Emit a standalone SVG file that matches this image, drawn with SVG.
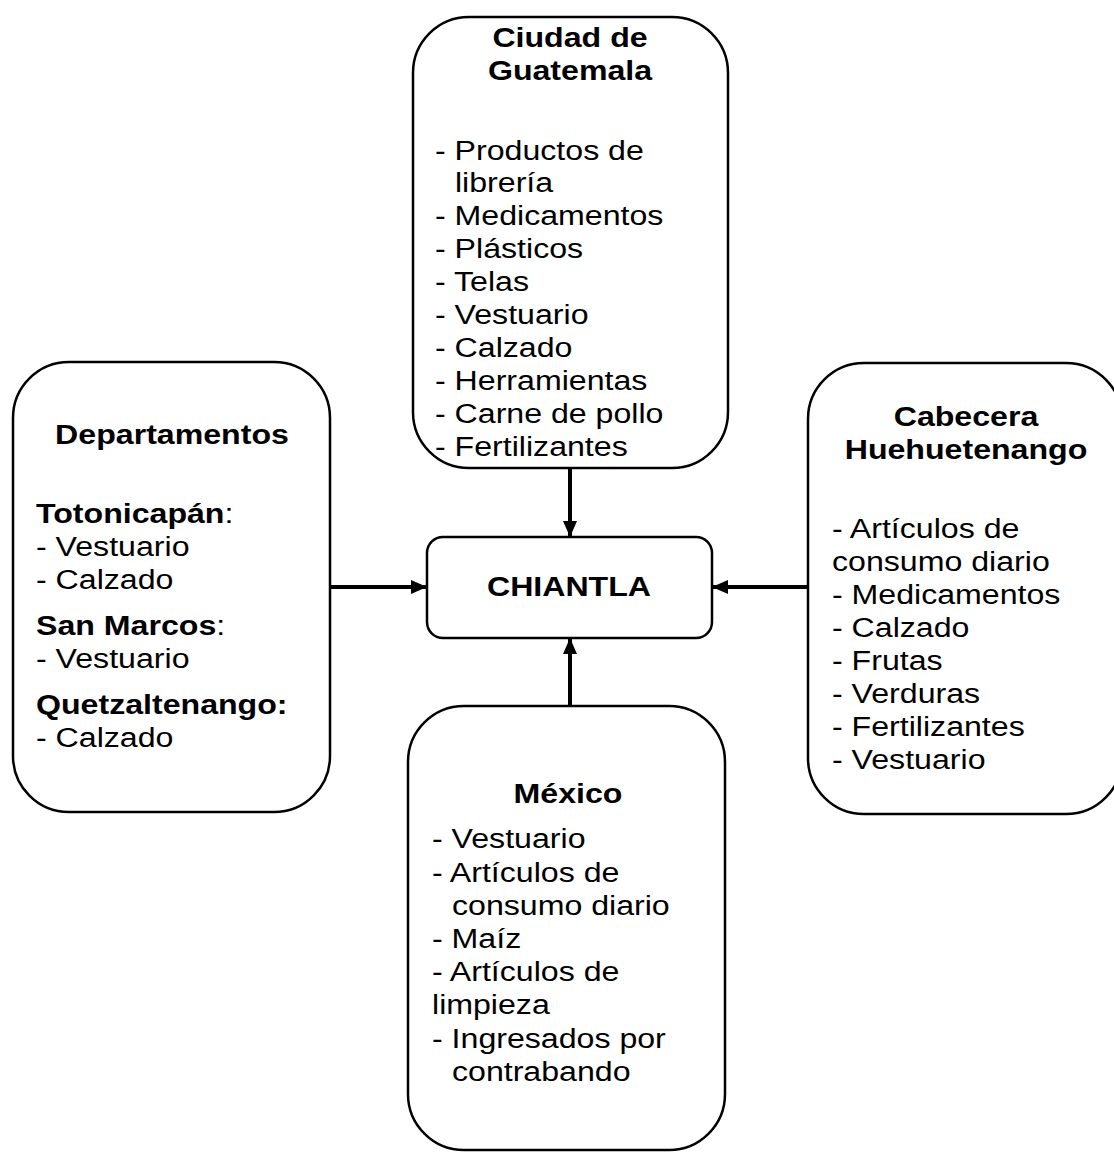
<svg xmlns="http://www.w3.org/2000/svg" width="1114" height="1152" viewBox="0 0 1114 1152">
<style>
.box{fill:#fff;stroke:#000;stroke-width:2.5}
.t{font-family:"Liberation Sans",Arial,sans-serif;font-size:27px;fill:#000}
.b{font-weight:bold}
.c{text-anchor:middle}
.conn{stroke:#000;stroke-width:4;fill:none}
</style>
<defs>
<marker id="ah" markerUnits="userSpaceOnUse" markerWidth="16" markerHeight="14" refX="15" refY="7" orient="auto">
<path d="M0,0 L16,7 L0,14 z" fill="#000"/>
</marker>
</defs>
<rect width="1114" height="1152" fill="#fff"/>
<g id="connectors">
<line class="conn" x1="570" y1="468" x2="570" y2="536" marker-end="url(#ah)"/>
<line class="conn" x1="330" y1="587" x2="426" y2="587" marker-end="url(#ah)"/>
<line class="conn" x1="808" y1="587" x2="713" y2="587" marker-end="url(#ah)"/>
<line class="conn" x1="570" y1="706" x2="570" y2="639" marker-end="url(#ah)"/>
</g>
<g id="guatemala">
<rect class="box" x="413" y="17" width="315" height="451" rx="56" ry="56"/>
<text class="t b c" transform="translate(570,0) scale(1.19,1)"><tspan x="0" y="47">Ciudad de</tspan><tspan x="0" y="80">Guatemala</tspan></text>
<text class="t" transform="translate(435,0) scale(1.19,1)">
<tspan x="0" y="160">- Productos de</tspan>
<tspan x="16.8" y="192">librería</tspan>
<tspan x="0" y="225">- Medicamentos</tspan>
<tspan x="0" y="258">- Plásticos</tspan>
<tspan x="0" y="291">- Telas</tspan>
<tspan x="0" y="324">- Vestuario</tspan>
<tspan x="0" y="357">- Calzado</tspan>
<tspan x="0" y="390">- Herramientas</tspan>
<tspan x="0" y="423">- Carne de pollo</tspan>
<tspan x="0" y="456">- Fertilizantes</tspan>
</text>
</g>
<g id="departamentos">
<rect class="box" x="13" y="362" width="317" height="450" rx="56" ry="56"/>
<text class="t b c" transform="translate(172,444) scale(1.19,1)">Departamentos</text>
<text class="t" transform="translate(36,0) scale(1.19,1)">
<tspan x="0" y="523" class="b">Totonicapán</tspan><tspan>:</tspan>
<tspan x="0" y="556">- Vestuario</tspan>
<tspan x="0" y="589">- Calzado</tspan>
<tspan x="0" y="635" class="b">San Marcos</tspan><tspan>:</tspan>
<tspan x="0" y="668">- Vestuario</tspan>
<tspan x="0" y="714" class="b">Quetzaltenango:</tspan>
<tspan x="0" y="747">- Calzado</tspan>
</text>
</g>
<g id="huehuetenango">
<rect class="box" x="808" y="363" width="314" height="451" rx="56" ry="56"/>
<text class="t b c" transform="translate(966,0) scale(1.19,1)"><tspan x="0" y="426">Cabecera</tspan><tspan x="0" y="459">Huehuetenango</tspan></text>
<text class="t" transform="translate(832,0) scale(1.19,1)">
<tspan x="0" y="538">- Artículos de</tspan>
<tspan x="0" y="571">consumo diario</tspan>
<tspan x="0" y="604">- Medicamentos</tspan>
<tspan x="0" y="637">- Calzado</tspan>
<tspan x="0" y="670">- Frutas</tspan>
<tspan x="0" y="703">- Verduras</tspan>
<tspan x="0" y="736">- Fertilizantes</tspan>
<tspan x="0" y="769">- Vestuario</tspan>
</text>
</g>
<g id="mexico">
<rect class="box" x="408" y="706" width="317" height="444" rx="56" ry="56"/>
<text class="t b c" transform="translate(568,803) scale(1.19,1)">México</text>
<text class="t" transform="translate(432,0) scale(1.19,1)">
<tspan x="0" y="848">- Vestuario</tspan>
<tspan x="0" y="882">- Artículos de</tspan>
<tspan x="16.8" y="915">consumo diario</tspan>
<tspan x="0" y="948">- Maíz</tspan>
<tspan x="0" y="981">- Artículos de</tspan>
<tspan x="0" y="1014">limpieza</tspan>
<tspan x="0" y="1048">- Ingresados por</tspan>
<tspan x="16.8" y="1081">contrabando</tspan>
</text>
</g>
<g id="chiantla">
<rect class="box" x="427" y="537" width="285" height="101" rx="16" ry="16"/>
<text class="t b c" transform="translate(569,596) scale(1.19,1)">CHIANTLA</text>
</g>
</svg>
